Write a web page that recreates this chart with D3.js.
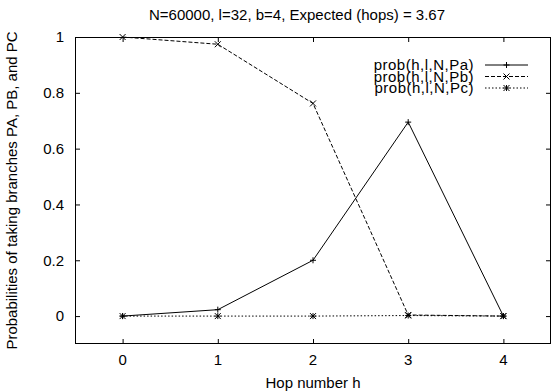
<!DOCTYPE html>
<html>
<head>
<meta charset="utf-8">
<script src="https://cdn.jsdelivr.net/npm/d3@7"></script>
<style>
  html, body { margin: 0; padding: 0; background: #fff; }
  text { font-family: "Liberation Sans", Arial, Helvetica, sans-serif; fill: #000; }
</style>
</head>
<body>
<svg id="chart" width="552" height="391"></svg>
<script>
// Hop numbers and branch probabilities per hop
const hops = [0, 1, 2, 3, 4];
const probA = [0.0, 0.023, 0.2, 0.695, 0.0];
const probB = [1.0, 0.974, 0.762, 0.004, 0.0];
const probC = [0.0, 0.0, 0.0, 0.002, 0.0];

const seriesNames = ["prob(h,l,N,Pa)", "prob(h,l,N,Pb)", "prob(h,l,N,Pc)"];
const xTicks = [0, 1, 2, 3, 4];
const yTicks = [0, 0.2, 0.4, 0.6, 0.8, 1];

const titleText = "N=60000, l=32, b=4, Expected (hops) = 3.67";
const xLabel = "Hop number h";
const yLabel = "Probabilities of taking branches PA, PB, and PC";

const W = 552, H = 391;
const plot = { left: 75, right: 551, top: 37, bottom: 344 };
const fontSize = 15;
const tickLen = 5;

const svg = d3.select("#chart");

const x = d3.scaleLinear().domain([-0.5, 4.5]).range([plot.left, plot.right]);
const y = d3.scaleLinear().domain([-0.1, 1]).range([plot.bottom, plot.top]);

// Frame
svg.append("rect")
  .attr("x", plot.left + 0.5).attr("y", plot.top + 0.5)
  .attr("width", plot.right - plot.left - 1).attr("height", plot.bottom - plot.top - 1)
  .attr("fill", "none").attr("stroke", "#000").attr("stroke-width", 1);

// Axes: inward ticks on all four sides, labels only on left and bottom
const fmtY = d => d3.format("")(d);
const leftAxis = d3.axisRight(y).tickValues(yTicks).tickSize(tickLen).tickFormat("");
const rightAxis = d3.axisLeft(y).tickValues(yTicks).tickSize(tickLen).tickFormat("");
const bottomAxis = d3.axisTop(x).tickValues(xTicks).tickSize(tickLen).tickFormat("");
const topAxis = d3.axisBottom(x).tickValues(xTicks).tickSize(tickLen).tickFormat("");

function styleAxis(g) {
  g.select(".domain").remove();
  g.selectAll(".tick line").attr("stroke", "#000");
}
svg.append("g").attr("transform", `translate(${plot.left},0)`).call(leftAxis).call(styleAxis);
svg.append("g").attr("transform", `translate(${plot.right},0)`).call(rightAxis).call(styleAxis);
svg.append("g").attr("transform", `translate(0,${plot.bottom})`).call(bottomAxis).call(styleAxis);
svg.append("g").attr("transform", `translate(0,${plot.top})`).call(topAxis).call(styleAxis);

// Tick labels
svg.append("g").selectAll("text").data(yTicks).join("text")
  .attr("x", plot.left - 11)
  .attr("y", d => y(d))
  .attr("dy", "0.36em")
  .attr("text-anchor", "end")
  .attr("font-size", fontSize)
  .text(fmtY);

svg.append("g").selectAll("text").data(xTicks).join("text")
  .attr("x", d => x(d))
  .attr("y", 365)
  .attr("text-anchor", "middle")
  .attr("font-size", fontSize)
  .text(d => d);

// Title and axis labels
svg.append("text").attr("x", 297).attr("y", 20)
  .attr("text-anchor", "middle").attr("font-size", fontSize).text(titleText);
svg.append("text").attr("x", (plot.left + plot.right) / 2).attr("y", 388)
  .attr("text-anchor", "middle").attr("font-size", fontSize).text(xLabel);
svg.append("text")
  .attr("transform", `translate(17,${(plot.top + plot.bottom) / 2}) rotate(-90)`)
  .attr("text-anchor", "middle").attr("font-size", fontSize).text(yLabel);

// Point markers
function markerPath(kind, s) {
  const p = d3.path();
  if (kind === "plus" || kind === "star") {
    p.moveTo(-s, 0); p.lineTo(s, 0);
    p.moveTo(0, -s); p.lineTo(0, s);
  }
  if (kind === "cross" || kind === "star") {
    p.moveTo(-s, -s); p.lineTo(s, s);
    p.moveTo(-s, s); p.lineTo(s, -s);
  }
  return p.toString();
}

const series = [
  { name: seriesNames[0], values: probA, dash: null, marker: "plus" },
  { name: seriesNames[1], values: probB, dash: "4,2", marker: "cross" },
  { name: seriesNames[2], values: probC, dash: "1.5,2", marker: "star" }
];

const line = d3.line().x((d, i) => x(hops[i])).y(d => y(d));

const plotG = svg.append("g");
series.forEach(s => {
  plotG.append("path")
    .attr("d", line(s.values))
    .attr("fill", "none").attr("stroke", "#000").attr("stroke-width", 1)
    .attr("stroke-dasharray", s.dash);
  plotG.append("g").selectAll("path").data(s.values).join("path")
    .attr("transform", (d, i) => `translate(${x(hops[i])},${y(d)})`)
    .attr("d", markerPath(s.marker, 3))
    .attr("fill", "none").attr("stroke", "#000").attr("stroke-width", 1);
});

// Legend
const legend = svg.append("g");
const legTextX = 474, legLine0 = 485, legLine1 = 528, legY0 = 65, legDy = 11.5;
series.forEach((s, i) => {
  const yy = legY0 + i * legDy;
  legend.append("text").attr("x", legTextX).attr("y", yy).attr("dy", "0.36em")
    .attr("text-anchor", "end").attr("font-size", fontSize)
    .attr("letter-spacing", "0.5px").text(s.name);
  legend.append("line").attr("x1", legLine0).attr("x2", legLine1).attr("y1", yy).attr("y2", yy)
    .attr("stroke", "#000").attr("stroke-width", 1).attr("stroke-dasharray", s.dash);
  legend.append("path").attr("transform", `translate(${(legLine0 + legLine1) / 2},${yy})`)
    .attr("d", markerPath(s.marker, 3))
    .attr("fill", "none").attr("stroke", "#000").attr("stroke-width", 1);
});
</script>
</body>
</html>
